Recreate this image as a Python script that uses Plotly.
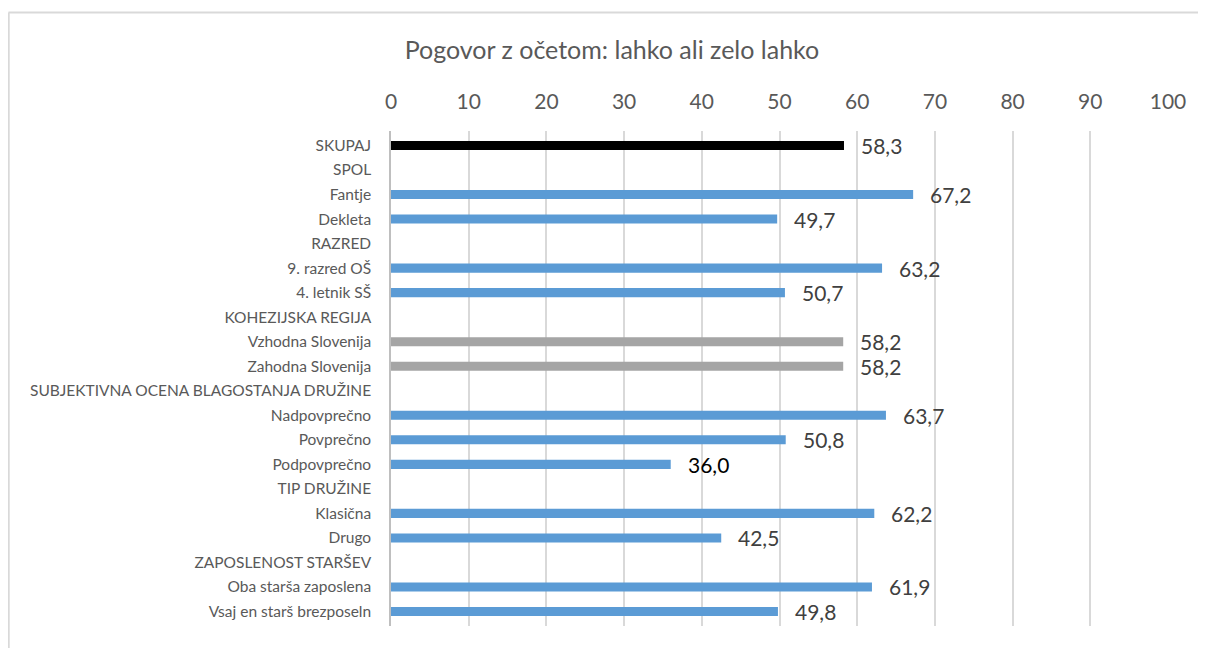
import plotly.graph_objects as go

categories = ["SKUPAJ", "SPOL", "Fantje", "Dekleta", "RAZRED", "9. razred OŠ", "4. letnik SŠ",
              "KOHEZIJSKA REGIJA", "Vzhodna Slovenija", "Zahodna Slovenija",
              "SUBJEKTIVNA OCENA BLAGOSTANJA DRUŽINE", "Nadpovprečno", "Povprečno", "Podpovprečno",
              "TIP DRUŽINE", "Klasična", "Drugo", "ZAPOSLENOST STARŠEV",
              "Oba starša zaposlena", "Vsaj en starš brezposeln"]
values = [58.3, None, 67.2, 49.7, None, 63.2, 50.7, None, 58.2, 58.2, None,
          63.7, 50.8, 36.0, None, 62.2, 42.5, None, 61.9, 49.8]
groups = ["total", None, "blue", "blue", None, "blue", "blue", None, "gray", "gray", None,
          "blue", "blue", "blue", None, "blue", "blue", None, "blue", "blue"]
x_ticks = [0, 10, 20, 30, 40, 50, 60, 70, 80, 90, 100]
title_text = "Pogovor z očetom: lahko ali zelo lahko"

color_map = {"total": "#000000", "blue": "#5B9BD5", "gray": "#A5A5A5", None: "rgba(0,0,0,0)"}
bar_colors = [color_map[g] for g in groups]

FONT = "Lato"
W, H = 1198, 640

fig = go.Figure()
fig.add_trace(go.Bar(
    y=categories, x=values, orientation="h",
    marker=dict(color=bar_colors, line=dict(width=0)),
    hoverinfo="skip",
))

for c, v in zip(categories, values):
    if v is None:
        continue
    fig.add_annotation(
        x=v, y=c, xref="x", yref="y",
        text=f"{v:.1f}".replace(".", ","),
        showarrow=False, xanchor="left", yanchor="middle", xshift=15, yshift=0,
        font=dict(family=FONT, size=21, color="#000000" if v == 36.0 else "#404040"),
    )

# chart frame: only top and left edges are visible in the reference
fig.add_shape(type="line", xref="paper", yref="paper",
              x0=-0.4923, x1=1.07, y0=1.2394, y1=1.2394,
              line=dict(color="#D9D9D9", width=2), layer="below")
fig.add_shape(type="line", xref="paper", yref="paper",
              x0=-0.4920, x1=-0.4920, y0=1.2394, y1=-0.2,
              line=dict(color="#D9D9D9", width=2), layer="below")

fig.update_layout(
    width=W, height=H,
    margin=dict(l=383, r=38, t=123, b=22),
    paper_bgcolor="white", plot_bgcolor="white",
    showlegend=False,
    bargap=0.63,
    title=dict(text=title_text, x=604 / W, xanchor="center", y=1 - 42 / H, yanchor="middle",
               font=dict(family=FONT, size=25, color="#595959")),
    xaxis=dict(side="top", range=[0, 100], tickmode="array", tickvals=x_ticks,
               ticktext=[str(t) for t in x_ticks],
               showgrid=True, gridcolor="#D9D9D9", gridwidth=1.5,
               zeroline=False, showline=False, ticks="",
               tickfont=dict(family=FONT, size=21, color="#595959"),
               ticklabelstandoff=17),
    yaxis=dict(autorange="reversed", showgrid=False, zeroline=False,
               showline=True, linecolor="#BFBFBF", linewidth=1.5, ticks="",
               tickfont=dict(family=FONT, size=15.5, color="#595959"),
               ticklabelstandoff=15),
)

fig.write_html("out.html")
